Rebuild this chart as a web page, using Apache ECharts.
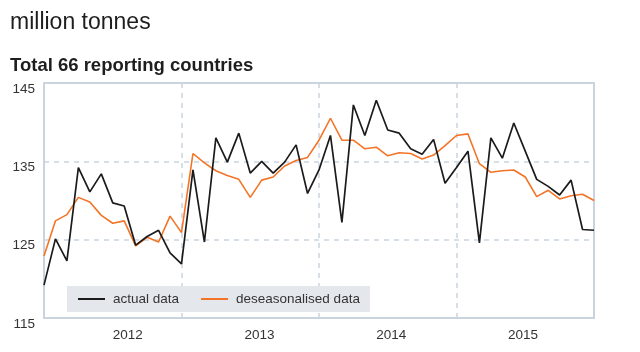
<!DOCTYPE html>
<html>
<head>
<meta charset="utf-8">
<script src="https://cdn.jsdelivr.net/npm/echarts@6/dist/echarts.min.js"></script>
<style>
  html, body { margin: 0; padding: 0; background: #fff; }
  #chart { width: 640px; height: 352px; }
</style>
</head>
<body>
<div id="chart"></div>
<script>
// Monthly values, Jan 2012 .. Jan 2016 (million tonnes)
const actualData = [
  119.2, 125.1, 122.3, 134.2, 131.1, 133.4, 129.7, 129.3, 124.3, 125.4, 126.2, 123.3,
  121.9, 133.9, 124.7, 138.0, 134.9, 138.6, 133.5, 135.0, 133.5, 134.9, 137.1, 130.9,
  133.9, 138.3, 127.2, 142.2, 138.3, 142.8, 139.0, 138.6, 136.6, 135.9, 137.8, 132.2,
  134.2, 136.3, 124.6, 138.0, 135.4, 139.9, 136.3, 132.7, 131.8, 130.7, 132.6, 126.3,
  126.2
];
const deseasonalisedData = [
  122.9, 127.4, 128.2, 130.4, 129.8, 128.1, 127.1, 127.4, 124.2, 125.3, 124.7, 128.0,
  125.9, 136.0, 134.8, 133.8, 133.2, 132.7, 130.4, 132.6, 133.0, 134.4, 135.1, 135.5,
  137.7, 140.5, 137.7, 137.7, 136.6, 136.8, 135.7, 136.1, 136.0, 135.3, 135.8, 137.0,
  138.3, 138.5, 134.7, 133.6, 133.8, 133.9, 133.0, 130.5, 131.3, 130.2, 130.6, 130.8,
  130.0
];
const yearLabels = ['2012', '2013', '2014', '2015'];
const seriesNames = ['actual data', 'deseasonalised data'];
const yTicks = [115, 125, 135, 145];

// label anchor positions along the month index axis
const yearLabelPos = yearLabels.map((y, k) => 7.3 + 11.5 * k);

const gridColor = '#c9d4df';
const font = "'Liberation Sans', Arial, Helvetica, sans-serif";

const chart = echarts.init(document.getElementById('chart'), null, { renderer: 'canvas' });
chart.setOption({
  animation: false,
  backgroundColor: '#fff',
  title: [
    {
      text: 'million tonnes',
      left: 10, top: 11, padding: 0,
      textStyle: { fontFamily: font, fontWeight: 'normal', fontSize: 23, color: '#1e1e1e' }
    },
    {
      text: 'Total 66 reporting countries',
      left: 10, top: 56, padding: 0,
      textStyle: { fontFamily: font, fontWeight: 'bold', fontSize: 18.5, color: '#1e1e1e' }
    }
  ],
  grid: {
    left: 44, right: 46, top: 83, bottom: 34,
    show: true, borderColor: gridColor, borderWidth: 2, backgroundColor: '#fff',
    containLabel: false
  },
  legend: {
    left: 67, top: 286,
    backgroundColor: '#e4e8ec',
    padding: [6, 10, 6, 11],
    icon: 'rect',
    itemWidth: 27, itemHeight: 2, itemGap: 22,
    textStyle: { fontFamily: font, fontSize: 13.5, color: '#333', padding: [0, 0, 0, 3] },
    data: seriesNames
  },
  xAxis: {
    type: 'value', min: 0, max: actualData.length - 1, interval: 12,
    axisLine: { show: false },
    axisTick: { show: false },
    splitLine: { show: true, lineStyle: { color: gridColor, type: [5, 5], width: 1.5 } },
    axisLabel: {
      customValues: yearLabelPos,
      margin: 10,
      fontFamily: font, fontSize: 13.5, color: '#333',
      formatter: function (v) {
        let best = 0, d = 1e9;
        yearLabelPos.forEach((p, k) => { if (Math.abs(p - v) < d) { d = Math.abs(p - v); best = k; } });
        return yearLabels[best];
      }
    }
  },
  yAxis: {
    type: 'value', min: yTicks[0], max: yTicks[yTicks.length - 1], interval: 10,
    axisLine: { show: false },
    axisTick: { show: false },
    splitLine: { show: true, lineStyle: { color: gridColor, type: [5, 5], width: 1.5 } },
    axisLabel: {
      margin: 9, fontFamily: font, fontSize: 13.5, color: '#333',
      verticalAlign: 'top', lineHeight: 12
    }
  },
  series: [
    {
      name: seriesNames[0], type: 'line',
      data: actualData.map((v, i) => [i, v]),
      symbol: 'none', showSymbol: false,
      lineStyle: { color: '#1b1b1b', width: 1.7 },
      itemStyle: { color: '#1b1b1b' },
      z: 3
    },
    {
      name: seriesNames[1], type: 'line',
      data: deseasonalisedData.map((v, i) => [i, v]),
      symbol: 'none', showSymbol: false,
      lineStyle: { color: '#f37426', width: 1.6 },
      itemStyle: { color: '#f37426' },
      z: 2
    }
  ]
});
</script>
</body>
</html>
